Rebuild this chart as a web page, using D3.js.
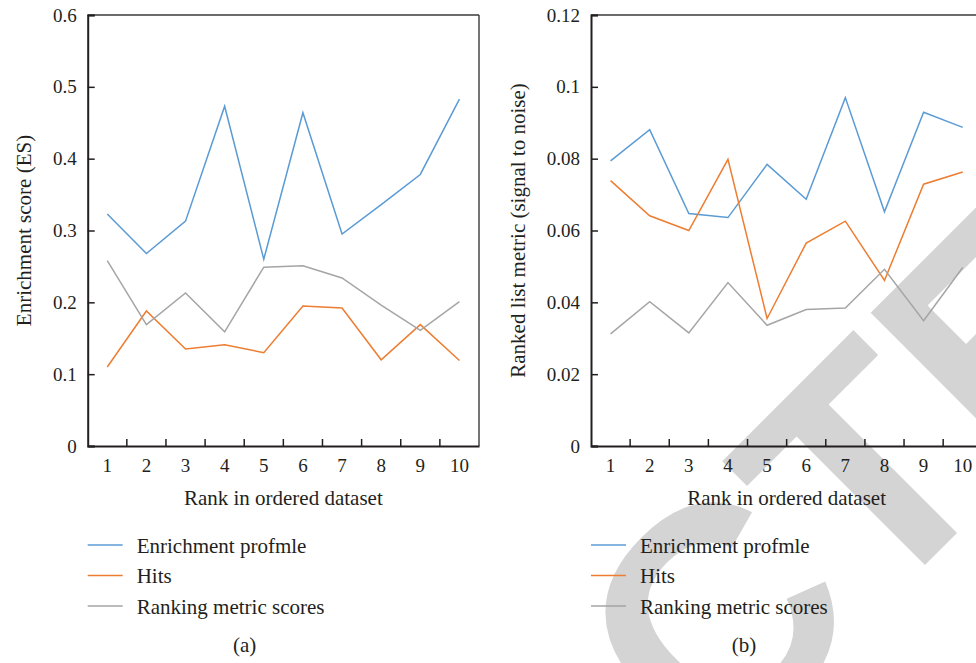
<!DOCTYPE html>
<html lang="en">
<head>
<meta charset="UTF-8">
<title>Enrichment plots</title>
<script src="https://d3js.org/d3.v7.min.js"></script>
<style>
    body { margin: 0; background: #fff; }
    text { font-family: "Liberation Serif", "DejaVu Serif", serif; fill: #231f20; }
    .tick text { font-size: 19px; }
</style>
</head>
<body>
<svg width="976" height="663"></svg>
<script>
    const ranks = ["1", "2", "3", "4", "5", "6", "7", "8", "9", "10"];
    const seriesNames = ["Enrichment profmle", "Hits", "Ranking metric scores"];
    const seriesColors = ["#5b9bd5", "#ed7d31", "#a5a5a5"];

    // panel (a): enrichment score
    const esProfile = [0.323, 0.268, 0.313, 0.473, 0.260, 0.464, 0.295, 0.336, 0.378, 0.483];
    const esHits    = [0.110, 0.188, 0.135, 0.141, 0.130, 0.195, 0.192, 0.120, 0.169, 0.119];
    const esRanking = [0.258, 0.169, 0.213, 0.159, 0.249, 0.251, 0.234, 0.196, 0.161, 0.201];
    const esTicks = [0, 0.1, 0.2, 0.3, 0.4, 0.5, 0.6];
    const esTickLabels = ["0", "0.1", "0.2", "0.3", "0.4", "0.5", "0.6"];

    // panel (b): ranked list metric
    const rlProfile = [0.0794, 0.0881, 0.0647, 0.0636, 0.0784, 0.0687, 0.0970, 0.0652, 0.0929, 0.0887];
    const rlHits    = [0.0739, 0.0641, 0.0600, 0.0798, 0.0355, 0.0565, 0.0626, 0.0461, 0.0729, 0.0763];
    const rlRanking = [0.0312, 0.0402, 0.0315, 0.0455, 0.0336, 0.0380, 0.0384, 0.0492, 0.0349, 0.0497];
    const rlTicks = [0, 0.02, 0.04, 0.06, 0.08, 0.1, 0.12];
    const rlTickLabels = ["0", "0.02", "0.04", "0.06", "0.08", "0.1", "0.12"];

    const svg = d3.select("svg");

    // watermark, behind everything
    const wm = svg.append("g").attr("transform", "translate(941,549) rotate(-45)");
    const wmText = wm.append("text")
        .style("font-family", "'Liberation Sans', Arial, sans-serif")
        .style("font-weight", "bold")
        .style("font-size", "315px")
        .style("fill", "#d4d4d4")
        .text("RETRACTED");
    const wn = wmText.node();
    const tStart = wn.getStartPositionOfChar(6).x, tEnd = wn.getEndPositionOfChar(6).x;
    wmText.attr("x", -(tStart + tEnd) / 2);

    function panel(opt) {
        const top = 15, bottom = 446;
        const x = d3.scaleBand().domain(ranks).range([opt.left, opt.left + 391.3]);
        const y = d3.scaleLinear().domain([0, opt.ticks[opt.ticks.length - 1]]).range([bottom, top]);
        const g = svg.append("g");

        // frame top / right
        g.append("line").attr("x1", opt.left).attr("x2", x.range()[1]).attr("y1", top).attr("y2", top)
            .attr("stroke", "#3a3a3a").attr("stroke-width", 1.4);
        g.append("line").attr("x1", x.range()[1]).attr("x2", x.range()[1]).attr("y1", top).attr("y2", bottom)
            .attr("stroke", "#3a3a3a").attr("stroke-width", 1.4);

        // y axis
        const ya = g.append("g").attr("transform", `translate(${opt.left},0)`)
            .call(d3.axisLeft(y).tickValues(opt.ticks).tickSize(-7).tickPadding(11)
                .tickFormat((d, i) => opt.labels[i]));
        ya.select(".domain").attr("stroke", "#231f20").attr("stroke-width", 2);
        ya.selectAll(".tick line").attr("stroke", "#231f20").attr("stroke-width", 1.5);
        ya.selectAll(".tick text").style("font-family", "Liberation Serif").attr("fill", "#231f20");

        // x axis: labels centered, ticks at band boundaries
        const xa = g.append("g").attr("transform", `translate(0,${bottom})`)
            .call(d3.axisBottom(x).tickSize(0).tickPadding(13));
        xa.select(".domain").attr("stroke", "#231f20").attr("stroke-width", 2);
        xa.selectAll(".tick text").style("font-family", "Liberation Serif").attr("fill", "#231f20");
        g.selectAll(".xb").data(ranks.slice(1)).enter().append("line")
            .attr("x1", d => x(d)).attr("x2", d => x(d))
            .attr("y1", bottom).attr("y2", bottom - 7)
            .attr("stroke", "#231f20").attr("stroke-width", 1.5);

        // lines
        const line = d3.line().x((d, i) => x(ranks[i]) + x.bandwidth() / 2).y(d => y(d));
        opt.series.forEach((s, k) => {
            g.append("path").datum(s).attr("d", line)
                .attr("fill", "none").attr("stroke", seriesColors[k]).attr("stroke-width", 1.5);
        });

        // axis titles
        g.append("text").attr("x", opt.left + 195.6).attr("y", 505)
            .attr("text-anchor", "middle").style("font-size", "21px").text("Rank in ordered dataset");
        g.append("text").attr("transform", `translate(${opt.titleX},${(top + bottom) / 2}) rotate(-90)`)
            .attr("text-anchor", "middle").style("font-size", "21px").text(opt.yTitle);

        // legend
        seriesNames.forEach((name, k) => {
            const ly = 545 + k * 30.5;
            g.append("line").attr("x1", opt.left).attr("x2", opt.left + 35).attr("y1", ly).attr("y2", ly)
                .attr("stroke", seriesColors[k]).attr("stroke-width", 1.5);
            g.append("text").attr("x", opt.left + 49).attr("y", ly + 7.5)
                .style("font-size", "21px").text(name);
        });

        g.append("text").attr("x", opt.labelX).attr("y", 652)
            .attr("text-anchor", "middle").style("font-size", "21px").text(opt.tag);
    }

    panel({
        left: 87.7, ticks: esTicks, labels: esTickLabels,
        series: [esProfile, esHits, esRanking],
        yTitle: "Enrichment score (ES)", titleX: 31, labelX: 244.7, tag: "(a)"
    });
    panel({
        left: 591, ticks: rlTicks, labels: rlTickLabels,
        series: [rlProfile, rlHits, rlRanking],
        yTitle: "Ranked list metric (signal to noise)", titleX: 525, labelX: 744, tag: "(b)"
    });
</script>
</body>
</html>
